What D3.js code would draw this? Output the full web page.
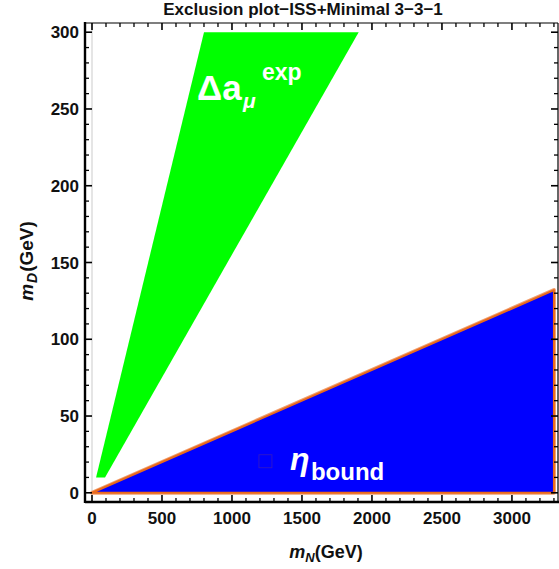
<!DOCTYPE html>
<html><head><meta charset="utf-8">
<script src="https://cdn.jsdelivr.net/npm/d3@7"></script>
<style>body{margin:0;background:#fff;} svg{display:block;font-family:"Liberation Sans",Arial,sans-serif;}</style>
</head><body>
<script>
const title = "Exclusion plot\u2212ISS+Minimal 3\u22123\u22121";
const xMajorTicks = [0, 500, 1000, 1500, 2000, 2500, 3000];
const yMajorTicks = [0, 50, 100, 150, 200, 250, 300];
const greenRegion = [[29, 10], [93, 10], [1905, 300], [800, 300]];   // (mN, mD)
const blueRegion = [[0, 0], [3300, 132], [3300, 0]];
const greenLabelPos = [750, 256];
const blueLabelPos = [1414, 15];

const W = 559, H = 569;
const L = 85, R = 558, T = 23, B = 502;
const svg = d3.select("body").append("svg").attr("width", W).attr("height", H);
const x = d3.scaleLinear().domain([-50, 3329]).range([L, R]);
const y = d3.scaleLinear().domain([-6, 306]).range([B, T]);

svg.append("rect").attr("x", L).attr("y", T).attr("width", R - L).attr("height", B - T).attr("fill", "#fff");
// origin axis line
svg.append("line").attr("x1", x(0)).attr("x2", x(0)).attr("y1", T).attr("y2", B)
  .attr("stroke", "#d4d4d4").attr("stroke-width", 1.2);

const line = d3.line().x(d => x(d[0])).y(d => y(d[1]));
svg.append("path").attr("d", line(greenRegion) + "Z").attr("fill", "#00ff00");
svg.append("path").attr("d", line(blueRegion) + "Z").attr("fill", "#0000ff")
  .attr("stroke", "#f0a070").attr("stroke-width", 4).attr("stroke-linejoin", "round");
svg.append("path").attr("d", line(blueRegion) + "Z").attr("fill", "#0000ff")
  .attr("stroke", "#ea6a1c").attr("stroke-width", 2).attr("stroke-linejoin", "round");

// labels
const gl = svg.append("g").attr("fill", "#fff").attr("font-weight", "bold");
const gx = x(greenLabelPos[0]), gy = y(greenLabelPos[1]);
gl.append("text").attr("x", gx).attr("y", gy).attr("font-size", 35).text("\u0394a");
gl.append("text").attr("x", gx + 46).attr("y", gy + 8).attr("font-size", 21).attr("font-style", "italic").text("\u03bc");
gl.append("text").attr("x", gx + 65).attr("y", gy - 20).attr("font-size", 23).text("exp");

const bx = x(blueLabelPos[0]), by = y(blueLabelPos[1]);
svg.append("rect").attr("x", bx - 31).attr("y", by - 15).attr("width", 13).attr("height", 13)
  .attr("fill", "none").attr("stroke", "#5a2a9a").attr("stroke-width", 0.8).attr("opacity", 0.6);
gl.append("text").attr("x", bx).attr("y", by).attr("font-size", 32).attr("font-style", "italic").text("\u03b7");
gl.append("text").attr("x", bx + 21).attr("y", by + 10).attr("font-size", 24).text("bound");

// frame
const fr = svg.append("g").attr("stroke", "#000");
fr.append("line").attr("x1", L).attr("x2", R).attr("y1", T).attr("y2", T).attr("stroke-width", 1.2);
fr.append("line").attr("x1", R).attr("x2", R).attr("y1", T).attr("y2", B).attr("stroke-width", 1.2);
fr.append("line").attr("x1", L).attr("x2", R + 1).attr("y1", B).attr("y2", B).attr("stroke-width", 2.4);
fr.append("line").attr("x1", L).attr("x2", L).attr("y1", T - 1).attr("y2", B + 1).attr("stroke-width", 2.4);

const xMinor = d3.range(0, 3329, 100).filter(v => !xMajorTicks.includes(v));
const yMinor = d3.range(0, 306, 10).filter(v => !yMajorTicks.includes(v));
// x ticks: bottom & top (inward)
[[B, -1], [T, 1]].forEach(([yy, dir]) => {
  xMajorTicks.forEach(v => fr.append("line").attr("x1", x(v)).attr("x2", x(v)).attr("y1", yy).attr("y2", yy + dir * 7).attr("stroke-width", 1.6));
  xMinor.forEach(v => fr.append("line").attr("x1", x(v)).attr("x2", x(v)).attr("y1", yy).attr("y2", yy + dir * 4).attr("stroke-width", 1.3));
});
[[L, 1], [R, -1]].forEach(([xx, dir]) => {
  yMajorTicks.forEach(v => fr.append("line").attr("y1", y(v)).attr("y2", y(v)).attr("x1", xx).attr("x2", xx + dir * 7).attr("stroke-width", 1.6));
  yMinor.forEach(v => fr.append("line").attr("y1", y(v)).attr("y2", y(v)).attr("x1", xx).attr("x2", xx + dir * 4).attr("stroke-width", 1.3));
});

// tick labels
const tl = svg.append("g").attr("font-weight", "bold").attr("font-size", 17).attr("fill", "#111");
xMajorTicks.forEach(v => tl.append("text").attr("x", x(v)).attr("y", B + 22).attr("text-anchor", "middle").text(v));
yMajorTicks.forEach(v => tl.append("text").attr("x", L - 6).attr("y", y(v) + 6).attr("text-anchor", "end").text(v));

// title
svg.append("text").attr("x", 303).attr("y", 15).attr("text-anchor", "middle")
  .attr("font-weight", "bold").attr("font-size", 17).attr("fill", "#111").text(title);

// axis labels
const xl = svg.append("text").attr("x", 326).attr("y", 558).attr("text-anchor", "middle")
  .attr("font-weight", "bold").attr("font-size", 18).attr("fill", "#111");
xl.append("tspan").attr("font-style", "italic").text("m");
xl.append("tspan").attr("font-style", "italic").attr("font-size", 13).attr("dy", 4).text("N");
xl.append("tspan").attr("dy", -4).text("(GeV)");

const yl = svg.append("text").attr("transform", "translate(33,261) rotate(-90)").attr("text-anchor", "middle")
  .attr("font-weight", "bold").attr("font-size", 19).attr("fill", "#111");
yl.append("tspan").attr("font-style", "italic").text("m");
yl.append("tspan").attr("font-style", "italic").attr("font-size", 14).attr("dy", 4).attr("dx", 1).text("D");
yl.append("tspan").attr("dy", -4).attr("dx", 1).text("(GeV)");
</script>
</body></html>
